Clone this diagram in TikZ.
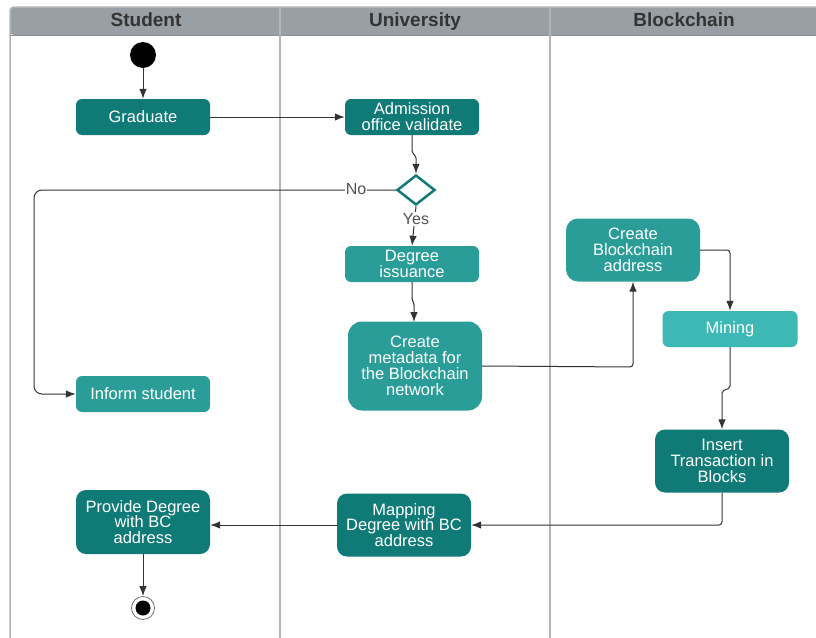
\documentclass[tikz,border=0pt]{standalone}
\usepackage{fontspec}
\setmainfont{Liberation Sans}
\usetikzlibrary{shapes.geometric,arrows.meta}
\definecolor{tealdark}{HTML}{107A77}
\definecolor{tealmid}{HTML}{2A9D98}
\definecolor{teallight}{HTML}{3DB8B5}
\definecolor{hdr}{HTML}{98A0A6}
\definecolor{lane}{HTML}{B4B4B4}
\definecolor{ink}{HTML}{333333}
\tikzset{
  box/.style={rectangle, rounded corners=6pt, text=white, align=center,
    minimum width=134pt, minimum height=36pt, inner sep=1pt,
    font=\fontsize{16.5}{15.8}\selectfont},
  dbox/.style={box, fill=tealdark},
  mbox/.style={box, fill=tealmid},
  lbox/.style={box, fill=teallight},
  arr/.style={draw=ink, line width=1pt, -{Latex[length=10pt,width=7.5pt]}},
  lbl/.style={fill=white, text=ink!85, inner sep=1pt, font=\fontsize{16}{16}\selectfont},
  hdrtext/.style={text=ink, anchor=base, font=\fontsize{19}{20}\selectfont\bfseries},
}
\begin{document}
\begin{tikzpicture}[x=1pt,y=-1pt]
\useasboundingbox (0,0) rectangle (816,637);
\clip (0,0) rectangle (816,637);
% swimlanes
\fill[white] (0,0) rectangle (816,637);
\fill[hdr, rounded corners=4pt] (10,7) rectangle (840,35);
\draw[lane, line width=1.5pt, rounded corners=4pt] (10,660) -- (10,7) -- (840,7);
\draw[lane!80!black, line width=1pt] (10,35) -- (840,35);
\draw[lane, line width=1.5pt] (280,7) -- (280,660);
\draw[lane, line width=1.5pt] (550,7) -- (550,660);
\node[hdrtext] (hs) at (146,26.5) {Student};
\node[hdrtext] (hu) at (415,26.5) {University};
\node[hdrtext] (hb) at (684,26.5) {Blockchain};
% nodes
\node[circle, fill=black, minimum size=26pt, inner sep=0] (start) at (143,55) {};
\node[dbox] (grad) at (143,117) {Graduate};
\node[dbox] (adm) at (412,117) {Admission\\office validate};
\node[diamond, draw=tealdark, line width=2.5pt, fill=white, minimum width=38pt, minimum height=30pt, inner sep=0] (dia) at (416,190) {};
\node[mbox] (deg) at (412,264) {Degree\\issuance};
\node[mbox, rounded corners=14pt, minimum height=89pt] (meta) at (415,366) {Create\\metadata for\\the Blockchain\\network};
\node[mbox, rounded corners=12pt, minimum height=63pt] (cbc) at (633,250) {Create\\Blockchain\\address};
\node[lbox, minimum width=135pt] (mine) at (730,329) {Mining};
\node[dbox, rounded corners=10pt, minimum height=63pt] (ins) at (722,461) {Insert\\Transaction in\\Blocks};
\node[dbox, rounded corners=10pt, minimum height=63pt] (map) at (404,525) {Mapping\\Degree with BC\\address};
\node[dbox, rounded corners=10pt, minimum height=64pt] (prov) at (143,522) {Provide Degree\\with BC\\address};
\node[mbox] (inf) at (143,394) {Inform student};
\node[circle, draw=ink!70, line width=0.8pt, fill=white, minimum size=23pt, inner sep=0] (end) at (143,608) {};
\node[circle, fill=black, minimum size=15pt, inner sep=0] (endin) at (143,608) {};
% connectors
\draw[arr] (start) -- (grad);
\draw[arr] (grad.east) -- (adm.west);
\draw[arr, rounded corners=2pt] (adm.south) -- (412,153) -- (416,156) -- (dia.north);
\draw[arr, rounded corners=8pt] (dia.west) -- (34,190) -- (34,394) -- (inf.west);
\node[lbl] (no) at (356,189) {No};
\draw[arr] (dia.south) -- (deg.north);
\node[lbl] (yes) at (416,219) {Yes};
\draw[arr, rounded corners=2pt] (deg.south) -- (412,300) -- (414,303) -- (414,322);
\draw[arr, rounded corners=3pt] (meta.east) -- (633,367) -- (cbc.south);
\draw[arr, rounded corners=3pt] (cbc.east) -- (730,250) -- (mine.north);
\draw[arr, rounded corners=2pt] (mine.south) -- (730,388) -- (722,391) -- (ins.north);
\draw[arr, rounded corners=3pt] (ins.south) -- (722,525) -- (map.east);
\draw[arr] (map.west) -- (prov.east |- map.west);
\draw[arr] (prov.south) -- (end.north);
\end{tikzpicture}
\end{document}
